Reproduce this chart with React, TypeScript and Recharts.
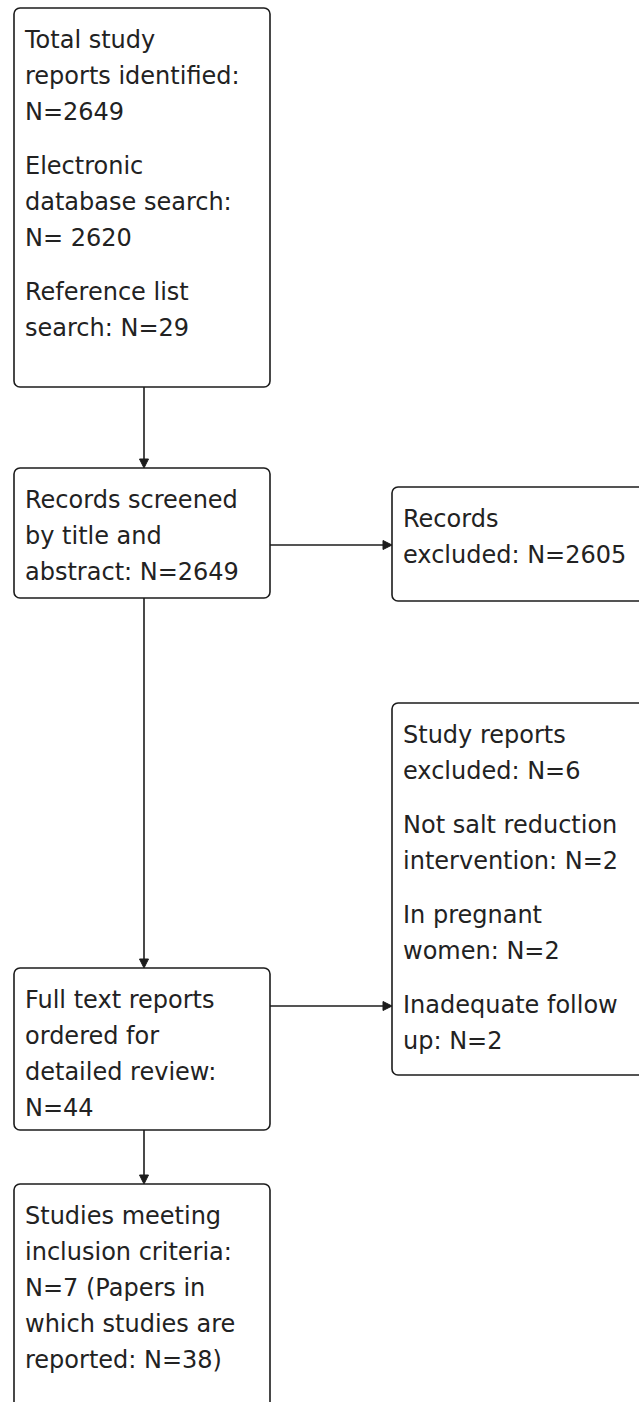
import React from 'react'
import { ComposedChart, XAxis, YAxis, ReferenceArea, ReferenceLine } from 'recharts'

// page coordinates of the flow diagram (x to the right, y downward)
const boxIds = ['identified', 'screened', 'excludedRecords', 'fullText', 'excludedReports', 'included']
const boxLeft = [14, 14, 392, 14, 392, 14]
const boxRight = [270, 270, 652, 270, 652, 270]
const boxTop = [8, 468, 487, 968, 703, 1184]
const boxBottom = [387, 598, 601, 1130, 1075, 1420]

const boxText: string[][][] = [
  [
    ['Total study', 'reports identified:', 'N=2649'],
    ['Electronic', 'database search:', 'N= 2620'],
    ['Reference list', 'search: N=29'],
  ],
  [['Records screened', 'by title and', 'abstract: N=2649']],
  [['Records', 'excluded: N=2605']],
  [['Full text reports', 'ordered for', 'detailed review:', 'N=44']],
  [
    ['Study reports', 'excluded: N=6'],
    ['Not salt reduction', 'intervention: N=2'],
    ['In pregnant', 'women: N=2'],
    ['Inadequate follow', 'up: N=2'],
  ],
  [['Studies meeting', 'inclusion criteria:', 'N=7 (Papers in', 'which studies are', 'reported: N=38)']],
]

// connectors: start and end points
const arrowFromX = [144, 270, 144, 270, 144]
const arrowFromY = [387, 545, 598, 1006, 1130]
const arrowToX = [144, 392, 144, 392, 144]
const arrowToY = [468, 545, 968, 1006, 1184]

const WIDTH = 639
const HEIGHT = 1402
const INK = '#1c1c1c'
const FONT = '"DejaVu Sans", sans-serif'
const LINE = 36
const PARA = 18

function Box(props: any) {
  const { x, y, width, height, paragraphs } = props
  const items: React.ReactNode[] = []
  let cy = y + 32
  paragraphs.forEach((para: string[], pi: number) => {
    para.forEach((line, li) => {
      items.push(
        <text
          key={`${pi}-${li}`}
          x={x + 11}
          y={cy}
          dominantBaseline="central"
          fontFamily={FONT}
          fontSize={24}
          fill="#222"
        >
          {line}
        </text>
      )
      cy += LINE
    })
    cy += PARA
  })
  return (
    <g>
      <rect x={x} y={y} width={width} height={height} rx={6} ry={6} fill="#fff" stroke={INK} strokeWidth={1.6} />
      {items}
    </g>
  )
}

function Arrow(props: any) {
  const { x1, y1, x2, y2 } = props
  const dx = x2 - x1
  const dy = y2 - y1
  const len = Math.sqrt(dx * dx + dy * dy) || 1
  const ux = dx / len
  const uy = dy / len
  const head = 9
  const half = 4.5
  const bx = x2 - ux * head
  const by = y2 - uy * head
  const pts = [
    `${x2},${y2}`,
    `${bx - uy * half},${by + ux * half}`,
    `${bx + uy * half},${by - ux * half}`,
  ].join(' ')
  return (
    <g>
      <line x1={x1} y1={y1} x2={bx} y2={by} stroke={INK} strokeWidth={1.6} />
      <polygon points={pts} fill={INK} stroke={INK} strokeWidth={1} />
    </g>
  )
}

export default function App() {
  return (
    <div style={{ position: 'absolute', left: 0, top: 0, background: '#fff' }}>
      <ComposedChart width={WIDTH} height={HEIGHT} data={[]} margin={{ top: 0, right: 0, bottom: 0, left: 0 }}>
        <XAxis type="number" dataKey="x" domain={[0, WIDTH]} allowDataOverflow hide />
        <YAxis type="number" dataKey="y" domain={[0, HEIGHT]} allowDataOverflow reversed hide />
        {arrowFromX.map((_, i) => (
          <ReferenceLine
            key={`arrow-${i}`}
            segment={[
              { x: arrowFromX[i], y: arrowFromY[i] },
              { x: arrowToX[i], y: arrowToY[i] },
            ]}
            ifOverflow="visible"
            shape={(p: any) => <Arrow {...p} />}
          />
        ))}
        {boxIds.map((id, i) => (
          <ReferenceArea
            key={id}
            x1={boxLeft[i]}
            x2={boxRight[i]}
            y1={boxTop[i]}
            y2={boxBottom[i]}
            ifOverflow="visible"
            shape={(p: any) => <Box {...p} paragraphs={boxText[i]} />}
          />
        ))}
      </ComposedChart>
    </div>
  )
}
